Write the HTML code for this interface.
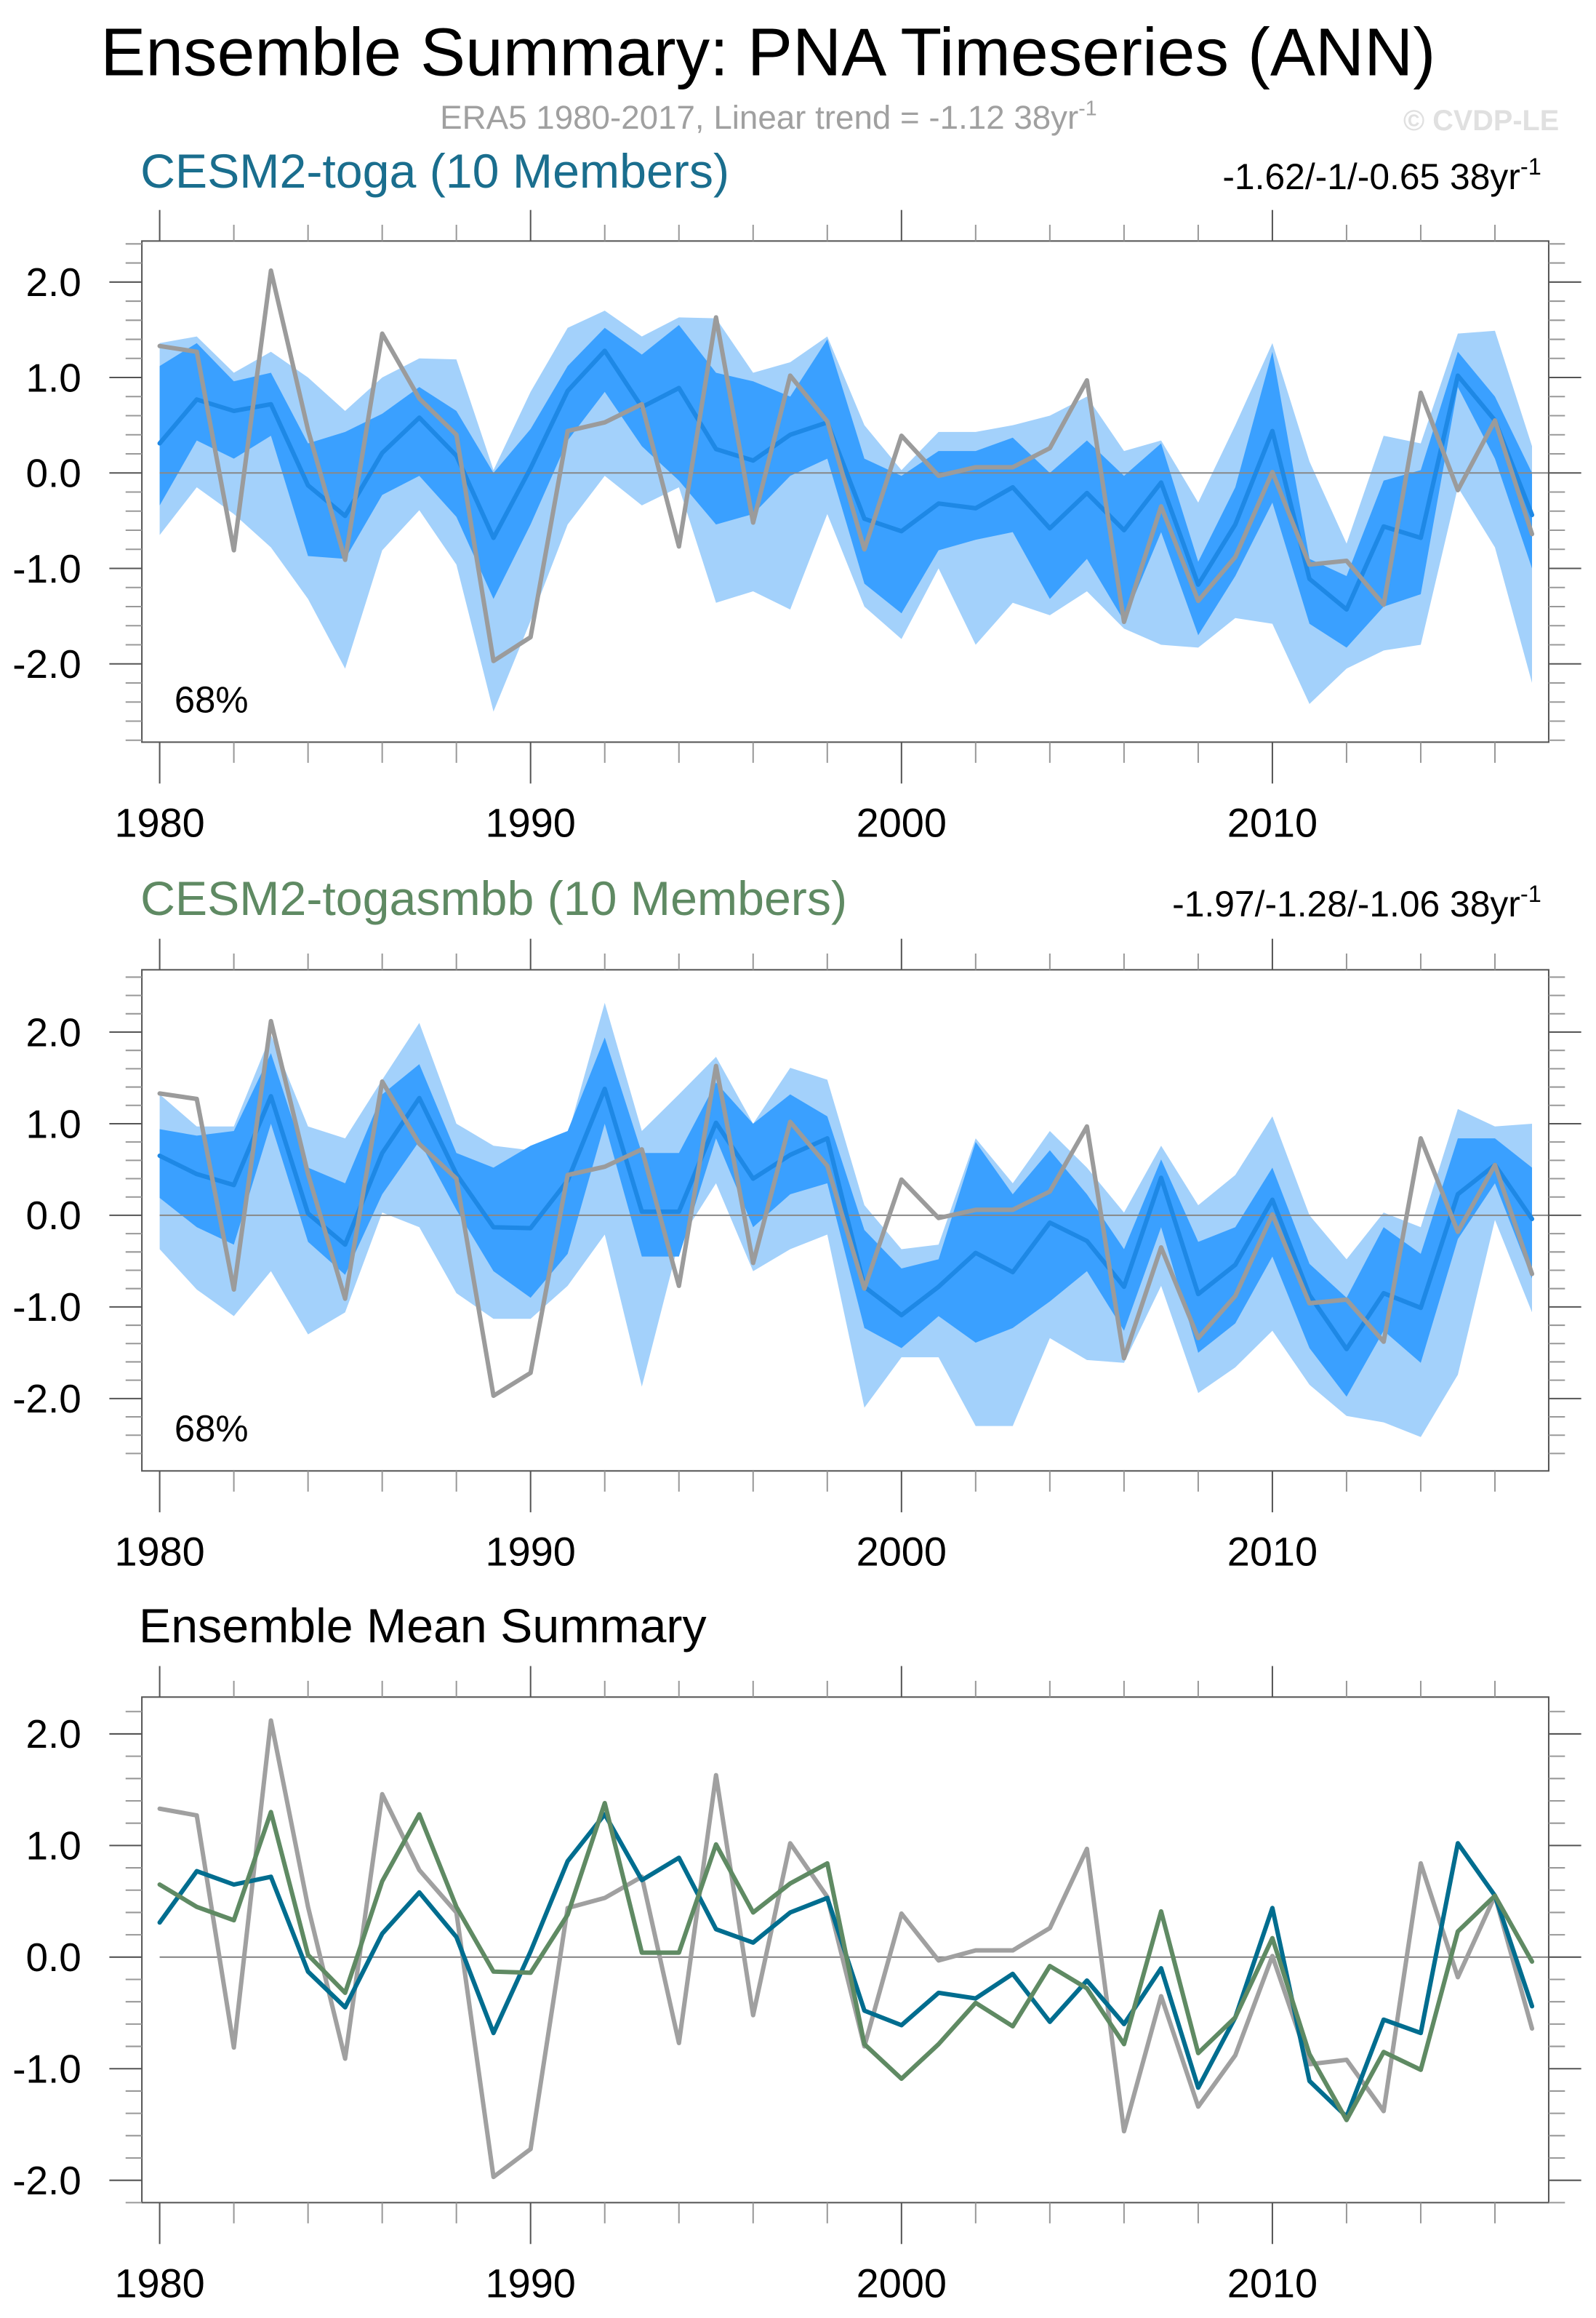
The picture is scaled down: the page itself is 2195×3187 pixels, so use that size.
<!DOCTYPE html>
<html><head><meta charset="utf-8"><style>
html,body{margin:0;padding:0;background:#fff}
svg{display:block}
text{font-family:"Liberation Sans",Arial,sans-serif}
</style></head><body>
<svg id="chart" width="2195" height="3187" viewBox="0 0 1080 1568" xmlns="http://www.w3.org/2000/svg">
<rect width="1080" height="1568" fill="#fff"/>
<text x="68" y="51" font-size="45.8">Ensemble Summary: PNA Timeseries (ANN)</text>
<text x="520" y="87" font-size="22.5" fill="#a0a0a0" text-anchor="middle">ERA5 1980-2017, Linear trend = -1.12 38yr<tspan dy="-9" font-size="14">-1</tspan></text>
<text x="1055" y="88" font-size="19.5" font-weight="bold" fill="#e0e0e0" text-anchor="end">© CVDP-LE</text>
<text x="95" y="127" font-size="32.6" fill="#1a6e8e">CESM2-toga (10 Members)</text>
<text x="1043" y="128" font-size="24.5" text-anchor="end">-1.62/-1/-0.65 38yr<tspan dy="-10" font-size="16">-1</tspan></text>
<text x="95" y="619" font-size="32.6" fill="#5f8a63">CESM2-togasmbb (10 Members)</text>
<text x="1043" y="620" font-size="24.5" text-anchor="end">-1.97/-1.28/-1.06 38yr<tspan dy="-10" font-size="16">-1</tspan></text>
<text x="94" y="1111" font-size="32.6">Ensemble Mean Summary</text>
<g id="plots"></g>
</svg>
<script>
const years = [];
for (let y = 1980; y <= 2017; y++) years.push(y);
const era5 = [1.33,1.27,-0.81,2.12,0.45,-0.91,1.46,0.78,0.4,-1.97,-1.72,0.44,0.53,0.72,-0.77,1.63,-0.52,1.02,0.54,-0.8,0.39,-0.03,0.06,0.06,0.26,0.97,-1.56,-0.35,-1.34,-0.88,0.01,-0.96,-0.92,-1.38,0.84,-0.18,0.55,-0.64];
const togaMean = [0.31,0.77,0.65,0.72,-0.13,-0.45,0.21,0.58,0.18,-0.68,0.05,0.86,1.28,0.69,0.89,0.25,0.13,0.4,0.53,-0.48,-0.61,-0.32,-0.37,-0.15,-0.58,-0.21,-0.6,-0.1,-1.17,-0.54,0.44,-1.11,-1.43,-0.56,-0.68,1.02,0.55,-0.44];
const smbbMean = [0.65,0.45,0.33,1.3,0.02,-0.32,0.68,1.28,0.45,-0.13,-0.14,0.38,1.38,0.04,0.04,1.01,0.4,0.66,0.84,-0.78,-1.09,-0.78,-0.41,-0.62,-0.08,-0.28,-0.78,0.41,-0.86,-0.54,0.17,-0.87,-1.46,-0.85,-1.01,0.23,0.55,-0.04];
const togaP84 = [1.12,1.36,0.96,1.05,0.31,0.43,0.62,0.9,0.65,0.0,0.46,1.12,1.52,1.24,1.55,1.05,0.96,0.8,1.4,0.15,-0.03,0.23,0.23,0.37,0.0,0.34,-0.03,0.31,-0.93,-0.15,1.27,-0.9,-1.08,-0.08,0.03,1.27,0.8,0.0];
const togaP16 = [-0.34,0.34,0.15,0.39,-0.87,-0.9,-0.23,-0.03,-0.46,-1.32,-0.54,0.34,0.85,0.28,-0.08,-0.54,-0.43,-0.03,0.15,-1.16,-1.47,-0.81,-0.7,-0.62,-1.32,-0.9,-1.55,-0.62,-1.7,-1.08,-0.31,-1.58,-1.83,-1.4,-1.27,0.9,0.15,-1.0];
const togaMax = [1.36,1.43,1.05,1.27,1.0,0.65,1.0,1.2,1.19,0.03,0.85,1.52,1.7,1.43,1.63,1.62,1.05,1.16,1.43,0.5,0.03,0.43,0.43,0.5,0.6,0.8,0.23,0.34,-0.31,0.5,1.36,0.12,-0.74,0.39,0.31,1.46,1.49,0.28];
const togaMin = [-0.65,-0.15,-0.43,-0.78,-1.32,-2.05,-0.81,-0.39,-0.96,-2.5,-1.55,-0.54,-0.03,-0.34,-0.15,-1.36,-1.24,-1.43,-0.43,-1.4,-1.74,-1.0,-1.8,-1.36,-1.49,-1.24,-1.63,-1.8,-1.83,-1.52,-1.58,-2.42,-2.05,-1.86,-1.8,-0.15,-0.78,-2.2];
const smbbP84 = [0.94,0.87,0.92,1.77,0.52,0.35,1.32,1.65,0.68,0.52,0.76,0.92,1.94,0.68,0.68,1.45,1.0,1.32,1.08,-0.16,-0.58,-0.48,0.8,0.23,0.71,0.23,-0.37,0.61,-0.29,-0.13,0.52,-0.53,-0.9,-0.13,-0.42,0.84,0.84,0.52];
const smbbP16 = [0.19,-0.13,-0.32,1.0,-0.29,-0.65,0.23,0.81,0.06,-0.61,-0.9,-0.42,1.0,-0.45,-0.45,0.84,-0.13,0.23,0.35,-1.23,-1.45,-1.1,-1.39,-1.23,-0.94,-0.61,-1.26,-0.13,-1.5,-1.18,-0.45,-1.45,-1.98,-1.26,-1.61,-0.26,0.35,-0.69];
const smbbMax = [1.32,0.97,0.97,1.97,0.97,0.84,1.48,2.1,1.0,0.76,0.71,0.87,2.32,0.92,1.32,1.73,1.0,1.61,1.48,0.11,-0.37,-0.32,0.84,0.35,0.92,0.52,0.03,0.76,0.11,0.44,1.08,0.0,-0.48,0.03,-0.13,1.16,0.97,1.0];
const smbbMin = [-0.37,-0.81,-1.1,-0.61,-1.3,-1.06,0.03,-0.13,-0.85,-1.13,-1.13,-0.77,-0.21,-1.87,-0.29,0.35,-0.61,-0.37,-0.21,-2.1,-1.55,-1.55,-2.3,-2.3,-1.34,-1.58,-1.61,-0.77,-1.94,-1.66,-1.26,-1.85,-2.19,-2.26,-2.42,-1.74,-0.05,-1.06];
const yTickLabels = ["-2.0","-1.0","0.0","1.0","2.0"];
const xTickLabels = ["1980","1990","2000","2010"];

const NS = "http://www.w3.org/2000/svg";
const root = document.getElementById("plots");
function mk(tag, attrs, parent) {
  const e = document.createElementNS(NS, tag);
  for (const k in attrs) e.setAttribute(k, attrs[k]);
  (parent || root).appendChild(e);
  return e;
}
const X0 = 96, X1 = 1048;
const yearMin = 1979.52, yearMax = 2017.45;
function xs(yr) { return X0 + (yr - yearMin) / (yearMax - yearMin) * (X1 - X0); }

function panel(name, top, bot, vTop, vBot, bands, lines, label) {
  const g = mk("g", {});
  
  
  const ys = v => top + (vTop - v) / (vTop - vBot) * (bot - top);
  bands.forEach(b => {
    let d = "";
    years.forEach((yr, i) => { d += (i ? "L" : "M") + xs(yr).toFixed(2) + "," + ys(b.hi[i]).toFixed(2); });
    for (let i = years.length - 1; i >= 0; i--) d += "L" + xs(years[i]).toFixed(2) + "," + ys(b.lo[i]).toFixed(2);
    const p = mk("path", { d: d + "Z", fill: b.color }, g);
    
    
  });
  const z = mk("line", { x1: xs(1980), x2: X1, y1: ys(0), y2: ys(0), stroke: "#888", "stroke-width": 1 }, g);
  
  
  lines.forEach(l => {
    const pts = years.map((yr, i) => xs(yr).toFixed(2) + "," + ys(l.vals[i]).toFixed(2)).join(" ");
    const pl = mk("polyline", { points: pts, fill: "none", stroke: l.color, "stroke-width": 3, "stroke-linejoin": "round", "stroke-linecap": "round" }, g);
    
    
  });
  const box = mk("rect", { x: X0, y: top, width: X1 - X0, height: bot - top, fill: "none", stroke: "#555", "stroke-width": 1 }, g);
  
  
  for (let k = -30; k <= 30; k += 2) {
    const v = k / 10;
    if (v > vTop || v < vBot) continue;
    const major = k % 10 === 0;
    const len = major ? 22 : 11;
    const y = ys(v);
    mk("line", { x1: X0 - len, x2: X0, y1: y, y2: y, stroke: major ? "#555" : "#999", "stroke-width": 1 }, g);
    mk("line", { x1: X1, x2: X1 + len, y1: y, y2: y, stroke: major ? "#555" : "#999", "stroke-width": 1 }, g);
  }
  yTickLabels.forEach(t => {
    const v = parseFloat(t);
    const tx = mk("text", { x: 55, y: ys(v) + 9.5, "font-size": 27, "text-anchor": "end" }, g);
    
    
    tx.textContent = t;
  });
  for (let yr = 1980; yr <= 2016; yr += 2) {
    const major = yr % 10 === 0;
    const x = xs(yr);
    mk("line", { x1: x, x2: x, y1: bot, y2: bot + (major ? 28 : 14), stroke: major ? "#555" : "#999", "stroke-width": 1 }, g);
    mk("line", { x1: x, x2: x, y1: top, y2: top - (major ? 21 : 11), stroke: major ? "#555" : "#999", "stroke-width": 1 }, g);
  }
  xTickLabels.forEach(t => {
    const tx = mk("text", { x: xs(parseInt(t)), y: bot + 64, "font-size": 27.5, "text-anchor": "middle" }, g);
    
    
    tx.textContent = t;
  });
  if (label) {
    const tx = mk("text", { x: 118, y: bot - 20, "font-size": 25 }, g);
    
    
    tx.textContent = label;
  }
}

panel("toga-panel", 163, 502, 2.43, -2.82,
  [{ name: "toga-range-band", hi: togaMax, lo: togaMin, color: "#a3d1fb" },
   { name: "toga-68-band", hi: togaP84, lo: togaP16, color: "#3aa0ff" }],
  [{ name: "toga-ensemble-mean-line", vals: togaMean, color: "#1e88e5" },
   { name: "era5-line", vals: era5, color: "#9b9b9b" }], "68%");
panel("togasmbb-panel", 656, 995, 2.68, -2.79,
  [{ name: "togasmbb-range-band", hi: smbbMax, lo: smbbMin, color: "#a3d1fb" },
   { name: "togasmbb-68-band", hi: smbbP84, lo: smbbP16, color: "#3aa0ff" }],
  [{ name: "togasmbb-ensemble-mean-line", vals: smbbMean, color: "#1e88e5" },
   { name: "era5-line", vals: era5, color: "#9b9b9b" }], "68%");
panel("ensemble-mean-panel", 1148, 1490, 2.33, -2.2, [],
  [{ name: "era5-line", vals: era5, color: "#a0a0a0" },
   { name: "toga-mean-line", vals: togaMean, color: "#006d8f" },
   { name: "togasmbb-mean-line", vals: smbbMean, color: "#5f8a63" }], null);
</script>
</body></html>
